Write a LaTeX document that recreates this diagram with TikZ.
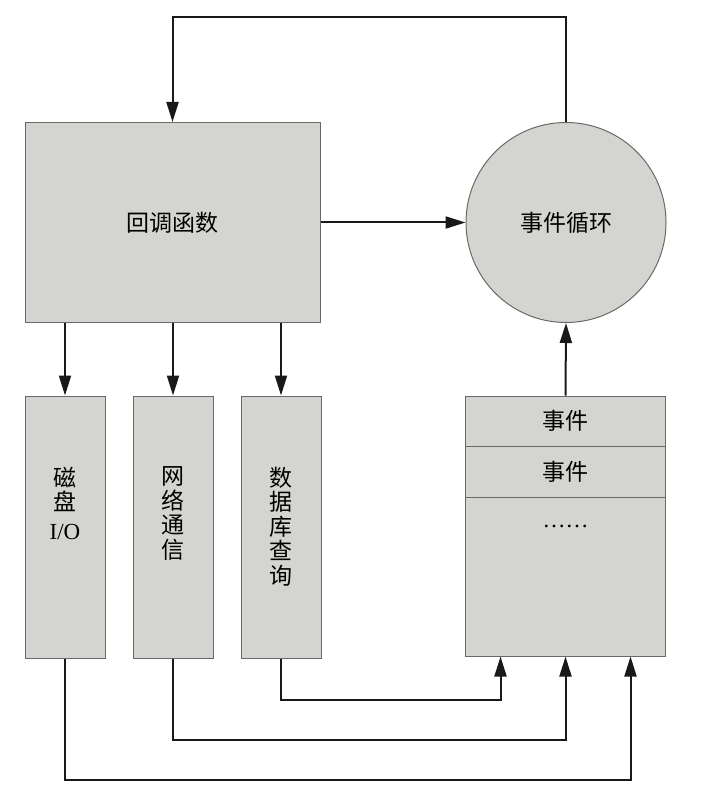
\documentclass[tikz,border=0pt]{standalone}
\usepackage{fontspec}
\setmainfont{Liberation Serif}
\newfontfamily\cjk{Noto Sans CJK SC}
\usetikzlibrary{arrows.meta,positioning}
\definecolor{boxfill}{RGB}{212,213,208}
\definecolor{boxline}{RGB}{105,105,105}
\definecolor{flowline}{RGB}{25,25,25}

\begin{document}
\begin{tikzpicture}[x=1pt, y=-1pt,
  every node/.style={font=\fontsize{23}{24.5}\selectfont\cjk},
  block/.style={draw=boxline, fill=boxfill, line width=1pt, inner sep=0pt},
  vlabel/.style={align=center, inner sep=0pt},
  flow/.style={draw=flowline, line width=2pt, -{Triangle[length=20pt, width=12pt]}}]
  \useasboundingbox (0,0) rectangle (723,799);

  % ---- Callback and event loop ----
  \node[block, minimum width=295pt, minimum height=200pt] (callback) at (172.5,222.5) {回调函数};
  \node[block, circle, minimum size=200pt] (loop) at (566,222.5) {事件循环};
  \draw[flow] (callback.east) -- (loop.west);
  \draw[flow] (loop.north) -- ++(0,-105) -| (callback.north);

  % ---- Blocking tasks (one column each) ----
  \foreach \name/\x in {disk/65, net/173, db/281} {
    \node[block, minimum width=80pt, minimum height=262pt] (\name) at (\x,527) {};
    \draw[flow] (callback.south -| \name.north) -- (\name.north);
  }
  \node[vlabel, below=71pt of disk.north] (disktext) {磁\\盘\\[4pt]{\rmfamily I/O}};
  \node[vlabel, below=71pt of net.north] (nettext) {网\\络\\通\\信};
  \node[vlabel, below=71pt of db.north] (dbtext) {数\\据\\库\\查\\询};

  % ---- Event queue ----
  \node[block, minimum width=200pt, minimum height=50pt] (ev1) at (565.5,421) {事件};
  \node[block, minimum width=200pt, minimum height=51pt, below=-1pt of ev1] (ev2) {事件};
  \node[block, minimum width=200pt, minimum height=159pt, below=-1pt of ev2] (evmore) {};
  \node[vlabel, anchor=base] (dots) at (565.5,527) {\rmfamily ……};
  \draw[flow] (ev1.north) -- (loop.south);

  % ---- Finished tasks go back into the queue ----
  \draw[flow] (db.south) -- ++(0,41) -| ([xshift=-65pt]evmore.south);
  \draw[flow] (net.south) -- ++(0,81) -| (evmore.south);
  \draw[flow] (disk.south) -- ++(0,121) -| ([xshift=65pt]evmore.south);
\end{tikzpicture}
\end{document}
